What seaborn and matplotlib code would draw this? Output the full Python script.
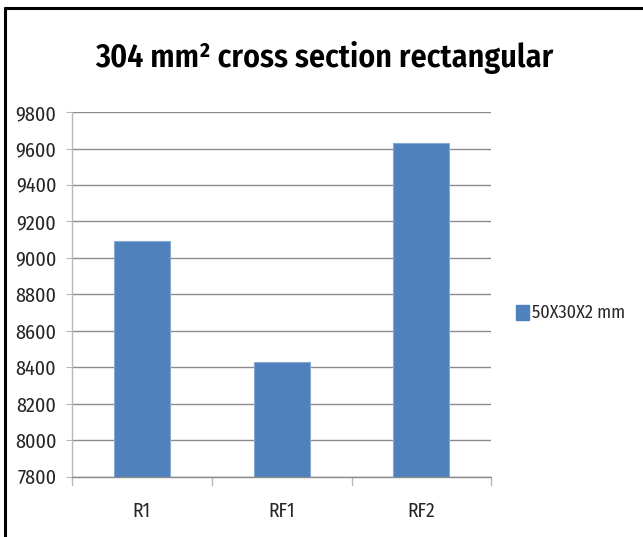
import matplotlib
matplotlib.use("Agg")
import matplotlib.pyplot as plt
import seaborn as sns
import pandas as pd
from matplotlib.lines import Line2D
from matplotlib.patches import Rectangle

categories = ["R1", "RF1", "RF2"]
values = [9093, 8427, 9630]
series_name = "50X30X2 mm"
y_ticks = [7800, 8000, 8200, 8400, 8600, 8800, 9000, 9200, 9400, 9600, 9800]

sns.set_style("white")
plt.rcParams["font.family"] = ["Fira Sans Condensed", "Carlito", "DejaVu Sans"]

df = pd.DataFrame({"cat": categories, "val": values, "series": series_name})

fig = plt.figure(figsize=(6.43, 5.37), dpi=100)
ax = fig.add_axes([0.112, 0.1123, 0.652, 0.679])

bar_color = "#4F81BD"
sns.barplot(data=df, x="cat", y="val", hue="series", palette=[bar_color],
            saturation=1, width=0.4, ax=ax, edgecolor="#86A9D4", linewidth=0.8,
            legend=False, zorder=3)

ax.set_ylim(y_ticks[0], y_ticks[-1])
ax.set_yticks(y_ticks)
ax.set_xlim(-0.5, len(categories) - 0.5)
ax.yaxis.grid(True, color="#8C8C8C", linewidth=1.0, zorder=0)
ax.set_axisbelow(True)
ax.set_xlabel("")
ax.set_ylabel("")

for side in ["top", "right", "bottom"]:
    ax.spines[side].set_visible(False)
ax.spines["left"].set_color("#B8B8B8")
ax.spines["left"].set_linewidth(1.0)
ax.axhline(y_ticks[0], color="#8C8C8C", linewidth=1.0, zorder=4, clip_on=False)

ax.tick_params(axis="y", labelsize=14.5, length=4.3, color="#B8B8B8", left=True,
               pad=7, labelcolor="#262626")
ax.tick_params(axis="x", labelsize=14, length=0, pad=18, labelcolor="#262626")

# category separator ticks along the bottom axis
for b in [-0.5, 0.5, 1.5, 2.5]:
    ax.add_line(Line2D([b, b], [0, -0.022], transform=ax.get_xaxis_transform(),
                       color="#B8B8B8", linewidth=1.0, clip_on=False))

fig.text(0.505, 0.892, "304 mm² cross section rectangular",
         ha="center", va="center", fontsize=23, fontweight=600, color="black")

handle = Rectangle((0, 0), 1, 1, facecolor=bar_color, edgecolor=bar_color)
fig.legend([handle], [series_name], loc="center left",
           bbox_to_anchor=(0.803, 0.417), frameon=False, fontsize=13,
           handlelength=0.7, handleheight=0.9, handletextpad=0.15,
           borderaxespad=0, borderpad=0)

# outer chart frame (top and left edges)
fig.add_artist(Line2D([0.0085, 0.0085], [0.0, 0.985], transform=fig.transFigure,
                      color="black", linewidth=2.2))
fig.add_artist(Line2D([0.0085, 1.0], [0.985, 0.985], transform=fig.transFigure,
                      color="black", linewidth=2.2))

fig.savefig("out.png", dpi=100)
